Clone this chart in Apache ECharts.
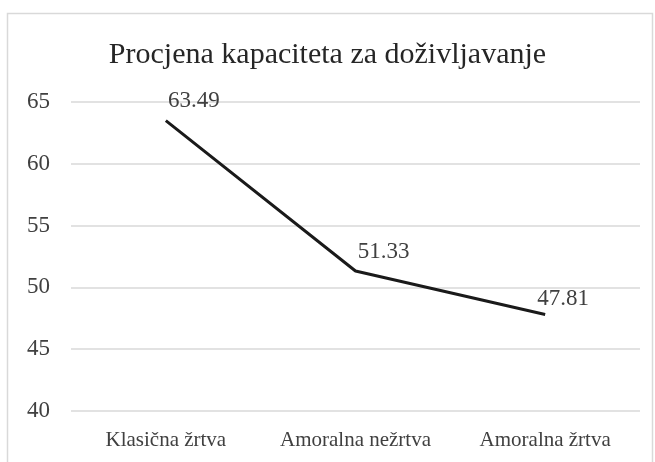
<!DOCTYPE html>
<html>
<head>
<meta charset="utf-8">
<script src="https://cdn.jsdelivr.net/npm/echarts@6/dist/echarts.min.js"></script>
<style>
  html,body{margin:0;padding:0;background:#fff;}
  #chart{width:655px;height:462px;}
</style>
</head>
<body>
<div id="chart"></div>
<script>
const categories = ['Klasična žrtva', 'Amoralna nežrtva', 'Amoralna žrtva']
const values = [63.49, 51.33, 47.81]
const labelOffsets = [[28, -20], [28, -19], [18, -16]] // pomak oznaka kao u originalu

const font = '"Liberation Serif", "Times New Roman", serif'
const myChart = echarts.init(document.getElementById('chart'))

const option = {
  animation: false,
  title: {
    text: 'Procjena kapaciteta za doživljavanje',
    left: 'center',
    top: 35,
    textStyle: { fontFamily: font, fontSize: 30, fontWeight: 'normal', color: '#262626' }
  },
  graphic: [{
    type: 'rect',
    shape: { x: 7.5, y: 13.5, width: 645, height: 460 },
    style: { fill: 'none', stroke: '#d9d9d9', lineWidth: 1.5 },
    silent: true
  }],
  grid: { left: 71, right: 15, top: 102, bottom: 51 },
  xAxis: {
    type: 'category',
    data: categories,
    boundaryGap: true,
    axisLine: { show: false },
    axisTick: { show: false },
    axisLabel: { interval: 0, hideOverlap: false, fontFamily: font, fontSize: 21, color: '#404040', margin: 19 }
  },
  yAxis: {
    type: 'value',
    min: 40,
    max: 65,
    interval: 5,
    axisLine: { show: false },
    axisTick: { show: false },
    axisLabel: { fontFamily: font, fontSize: 23, color: '#404040', margin: 21 },
    splitLine: { lineStyle: { color: '#d9d9d9', width: 1.5 } }
  },
  series: [{
    type: 'line',
    data: values.map((v, i) => ({
      value: v,
      label: { offset: labelOffsets[i] }
    })),
    symbol: 'circle',
    symbolSize: 0,
    showSymbol: true,
    lineStyle: { color: '#1a1a1a', width: 3 },
    label: {
      show: true,
      position: 'inside',
      fontFamily: font,
      fontSize: 23,
      color: '#404040'
    }
  }]
}
myChart.setOption(option)
</script>
</body>
</html>
